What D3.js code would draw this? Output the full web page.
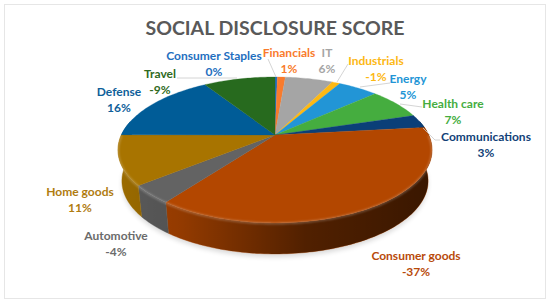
<!DOCTYPE html>
<html>
<head>
<meta charset="utf-8">
<script src="https://cdn.jsdelivr.net/npm/d3@7"></script>
<style>
    html, body { margin: 0; padding: 0; background: #fff; }
    svg { display: block; }
    text { font-family: Lato, "Open Sans", sans-serif; font-weight: 700; }
</style>
</head>
<body>
<div id="chart"></div>
<script>
const categories = ['Consumer Staples', 'Financials', 'IT', 'Industrials', 'Energy', 'Health care',
    'Communications', 'Consumer goods', 'Automotive', 'Home goods', 'Defense', 'Travel'];
const scores = [0.3, 1, 6, -1, 5, 7, 3, -37, -4, 11, 16, -9];
const scoreLabels = ['0%', '1%', '6%', '-1%', '5%', '7%', '3%', '-37%', '-4%', '11%', '16%', '-9%'];
const colors = ['#1f6fc0', '#f97b2c', '#a5a5a5', '#fdb813', '#2295d6', '#45ad3f',
    '#0b3f78', '#b34700', '#636363', '#a87400', '#005c97', '#276a1e'];
const textColors = ['#1f6fc0', '#f97b2c', '#a5a5a5', '#fdb813', '#2295d6', '#45ad3f',
    '#123f78', '#b84a0a', '#6b6b6b', '#b07c10', '#0f5f9a', '#2f6a22'];

// label centres, first line baseline
const labelX = [214, 289, 327, 376, 408, 453, 486, 416, 116, 80, 119, 160];
const labelY = [60, 57, 57, 65, 83, 108, 141, 260, 240, 196, 96, 78];
// leader lines, by category index
const leaders = {
    0: [[268, 59], [276, 77]],
    3: [[348, 64], [337, 82]],
    4: [[390, 83], [360, 87]],
    5: [[422, 107], [400, 104]],
    6: [[440, 140], [435, 140], [423, 128]],
    11: [[177, 78], [237, 78]]
};

const width = 550, height = 303;
const cx = 275, cy = 135;
const rx = 153.7, ry = 69.9, persp = 0.205;
const depth = 31;

const svg = d3.select('#chart').append('svg')
    .attr('width', width)
    .attr('height', height)
    .attr('viewBox', [0, 0, width, height]);

const defs = svg.append('defs');
defs.append('filter').attr('id', 'blur').append('feGaussianBlur').attr('stdDeviation', 2.5);
defs.append('filter').attr('id', 'soft').append('feGaussianBlur').attr('stdDeviation', 0.8);
const grad = defs.append('linearGradient').attr('id', 'wallShade')
    .attr('gradientUnits', 'userSpaceOnUse')
    .attr('x1', 118).attr('x2', 431).attr('y1', 0).attr('y2', 0);
grad.selectAll('stop')
    .data([[0, 0.08], [0.2, 0.18], [0.6, 0.55], [1, 0.68]])
    .join('stop')
    .attr('offset', d => d[0])
    .attr('stop-color', '#000')
    .attr('stop-opacity', d => d[1]);

// frame
svg.append('rect')
    .attr('x', 4.5).attr('y', 4.5)
    .attr('width', 541).attr('height', 294)
    .attr('fill', '#fff').attr('stroke', '#e6e6e6');

// circle point at pie angle a -> screen point, with perspective
function project(a, r = 1, drop = 0) {
    const u = Math.sin(a) * r, v = -Math.cos(a) * r;
    const w = 1 - persp * v;
    const shrink = 1 - 0.025 * (drop / depth);
    return [cx + rx * shrink * u / w, cy + ry * v / w + drop];
}

function arcPoints(a0, a1, drop = 0) {
    const n = Math.max(2, Math.ceil((a1 - a0) / 0.02));
    return d3.range(n + 1).map(i => project(a0 + (a1 - a0) * i / n, 1, drop));
}

const line = d3.line();
const pie = d3.pie().sort(null).value(d => Math.abs(d));
const slices = pie(scores);

// shadow under the disc
svg.append('path')
    .attr('d', line(arcPoints(0, 2 * Math.PI, depth + 3)) + 'Z')
    .attr('fill', '#000')
    .attr('opacity', 0.15)
    .attr('filter', 'url(#blur)');

// side wall, only the near half shows
const frontStart = Math.PI / 2 - 0.2, frontEnd = 3 * Math.PI / 2 + 0.2;
const wall = svg.append('g');
slices.forEach((s, i) => {
    const a0 = Math.max(s.startAngle, frontStart), a1 = Math.min(s.endAngle, frontEnd);
    if (a1 <= a0) return;
    const d = line(arcPoints(a0, a1).concat(arcPoints(a0, a1, depth).reverse())) + 'Z';
    wall.append('path').attr('d', d).attr('fill', colors[i]).attr('stroke', colors[i]).attr('stroke-width', 0.4);
    wall.append('path').attr('d', d).attr('fill', 'url(#wallShade)');
});

// top face
const face = svg.append('g');
slices.forEach((s, i) => {
    const d = line([[cx, cy]].concat(arcPoints(s.startAngle, s.endAngle))) + 'Z';
    face.append('path').attr('d', d).attr('fill', colors[i]).attr('stroke', colors[i]).attr('stroke-width', 0.3);
});

// rim bevel
svg.append('path')
    .attr('d', line(arcPoints(Math.PI / 2, 3 * Math.PI / 2, 0.5)))
    .attr('fill', 'none')
    .attr('stroke', '#fff')
    .attr('stroke-opacity', 0.3)
    .attr('stroke-width', 1.6)
    .attr('filter', 'url(#soft)');

// leaders
svg.append('g').selectAll('path')
    .data(Object.values(leaders))
    .join('path')
    .attr('d', d => line(d))
    .attr('fill', 'none')
    .attr('stroke', '#c9c9c9')
    .attr('stroke-width', 0.8);

// title
svg.append('text')
    .attr('x', 275).attr('y', 35)
    .attr('text-anchor', 'middle')
    .attr('font-size', 19.5)
    .attr('fill', '#595959')
    .text('SOCIAL DISCLOSURE SCORE');

// labels
const labels = svg.append('g').attr('font-size', 12).attr('text-anchor', 'middle');
categories.forEach((c, i) => {
    labels.append('text').attr('x', labelX[i]).attr('y', labelY[i]).attr('fill', textColors[i]).text(c);
    labels.append('text').attr('x', labelX[i]).attr('y', labelY[i] + 15.5).attr('fill', textColors[i]).text(scoreLabels[i]);
});
</script>
</body>
</html>
